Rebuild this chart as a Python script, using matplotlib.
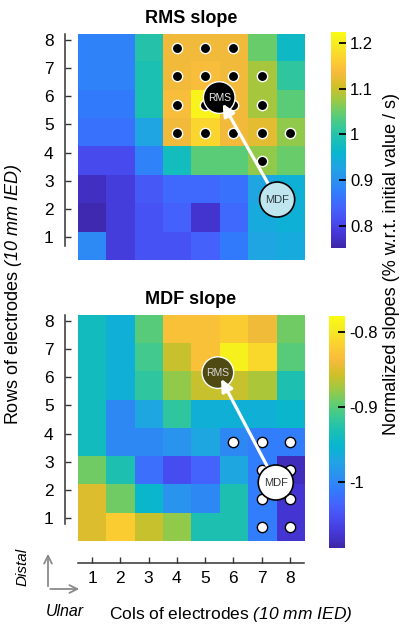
import numpy as np
import matplotlib

matplotlib.use("Agg")
import matplotlib.pyplot as plt
from matplotlib.colors import LinearSegmentedColormap
from matplotlib.patches import Circle, FancyArrowPatch

plt.rcParams["font.family"] = ["Liberation Sans", "DejaVu Sans"]
# math parts are only used for the italic "(10 mm IED)"
plt.rcParams["mathtext.fontset"] = "custom"
plt.rcParams["mathtext.rm"] = "Liberation Sans:italic"
plt.rcParams["mathtext.it"] = "Liberation Sans:italic"

# ---- data (rows listed from row 8 at the top down to row 1) ----
rows = [8, 7, 6, 5, 4, 3, 2, 1]
cols = [1, 2, 3, 4, 5, 6, 7, 8]

rms_slope = [
    [0.88, 0.88, 1.00, 1.13, 1.13, 1.13, 1.05, 0.97],
    [0.88, 0.88, 0.99, 1.13, 1.14, 1.13, 1.08, 1.01],
    [0.87, 0.87, 0.99, 1.14, 1.21, 1.13, 1.08, 1.04],
    [0.86, 0.86, 0.93, 1.13, 1.17, 1.13, 1.12, 1.07],
    [0.81, 0.81, 0.88, 0.98, 1.04, 1.04, 1.07, 1.05],
    [0.77, 0.79, 0.83, 0.85, 0.85, 0.86, 0.93, 0.95],
    [0.76, 0.79, 0.82, 0.84, 0.78, 0.85, 0.94, 0.95],
    [0.89, 0.79, 0.82, 0.82, 0.84, 0.87, 0.93, 0.94],
]
mdf_slope = [
    [-0.94, -0.96, -0.90, -0.83, -0.83, -0.82, -0.84, -0.89],
    [-0.94, -0.96, -0.91, -0.86, -0.83, -0.79, -0.81, -0.90],
    [-0.94, -0.96, -0.92, -0.88, -0.86, -0.86, -0.87, -0.93],
    [-0.94, -1.00, -0.97, -0.92, -0.96, -0.96, -0.96, -0.95],
    [-0.94, -1.00, -1.00, -0.99, -0.97, -1.00, -1.01, -1.01],
    [-0.89, -0.93, -1.02, -1.05, -1.03, -0.97, -1.01, -1.08],
    [-0.85, -0.89, -0.95, -0.99, -1.00, -0.93, -1.01, -1.07],
    [-0.85, -0.82, -0.86, -0.88, -0.93, -0.93, -1.01, -1.07],
]
rms_clim = (0.753, 1.223)
mdf_clim = (-1.089, -0.778)
rms_ticks = [0.8, 0.9, 1.0, 1.1, 1.2]
mdf_ticks = [-1.0, -0.9, -0.8]

# selected channels (col, row)
rms_dot_cols = [4, 5, 6, 4, 5, 6, 7, 4, 5, 6, 7, 4, 5, 6, 7, 8, 7]
rms_dot_rows = [8, 8, 8, 7, 7, 7, 7, 6, 6, 6, 6, 5, 5, 5, 5, 5, 4]
mdf_dot_cols = [6, 7, 8, 7, 8, 7, 8, 7, 8]
mdf_dot_rows = [4, 4, 4, 3, 3, 2, 2, 1, 1]

# barycenters (col, row)
rms_map_centers = {"RMS": (5.5, 6.25), "MDF": (7.55, 2.64)}
mdf_map_centers = {"RMS": (5.45, 6.46), "MDF": (7.5, 2.57)}

# parula (every 4th entry of the 64 step table)
parula = LinearSegmentedColormap.from_list(
    "parula",
    [
        (0.2422, 0.1504, 0.6603),
        (0.2706, 0.2147, 0.8364),
        (0.2813, 0.3006, 0.9414),
        (0.2699, 0.3892, 0.9906),
        (0.1963, 0.4847, 0.9892),
        (0.1687, 0.5703, 0.9359),
        (0.1248, 0.6459, 0.8883),
        (0.0297, 0.7082, 0.8163),
        (0.0964, 0.7500, 0.7120),
        (0.2161, 0.7843, 0.5923),
        (0.3909, 0.8029, 0.4354),
        (0.6174, 0.7876, 0.2612),
        (0.8203, 0.7498, 0.1535),
        (0.9728, 0.7298, 0.2394),
        (0.9892, 0.8136, 0.1885),
        (0.9597, 0.9135, 0.1423),
        (0.9769, 0.9839, 0.0805),
    ],
)

W, H = 407, 631


def fx(x):
    return x / W


def fy(y):
    return 1 - y / H


fig = plt.figure(figsize=(W / 100, H / 100), dpi=100)
ax_rms = fig.add_axes([fx(78), fy(260), 226 / W, 226 / H])
ax_mdf = fig.add_axes([fx(78), fy(541), 226 / W, 226 / H])
cax_rms = fig.add_axes([fx(331), fy(248), 15 / W, 216 / H])
cax_mdf = fig.add_axes([fx(329), fy(548), 16 / W, 232 / H])

tick_off = 0.3  # row tick labels sit a bit above the cell centers
spine_col = "#333333"


def draw_map(ax, data, clim, title, bounds):
    im = ax.imshow(
        np.array(data),
        cmap=parula,
        vmin=clim[0],
        vmax=clim[1],
        extent=(0.5, 8.5, 0.5, 8.5),
        origin="upper",
        aspect="auto",
        interpolation="nearest",
    )
    ax.set_xlim(0.5, 8.5)
    ax.set_ylim(0.5, 8.5)
    for s in ["top", "right", "bottom"]:
        ax.spines[s].set_visible(False)
    ax.spines["left"].set_position(("outward", 9.5))
    ax.spines["left"].set_bounds(*bounds)
    ax.spines["left"].set_color(spine_col)
    ax.spines["left"].set_linewidth(1.1)
    ax.set_yticks([r + tick_off for r in rows])
    ax.set_yticklabels([str(r) for r in rows])
    ax.tick_params(
        axis="y", direction="in", length=4, width=1.0, color=spine_col,
        labelsize=12.5, pad=8,
    )
    ax.set_xticks([])
    ax.set_title(title, fontweight="bold", fontsize=13, pad=8)
    return im


im_rms = draw_map(ax_rms, rms_slope, rms_clim, "RMS slope", (1.0, 8.5))
im_mdf = draw_map(ax_mdf, mdf_slope, mdf_clim, "MDF slope", (1.1, 8.5))

# x axis only under the lower map
ax_mdf.spines["bottom"].set_visible(True)
ax_mdf.spines["bottom"].set_position(("outward", 15.5))
ax_mdf.spines["bottom"].set_color(spine_col)
ax_mdf.spines["bottom"].set_linewidth(1.1)
ax_mdf.set_xticks(cols)
ax_mdf.set_xticklabels([str(c) for c in cols])
ax_mdf.tick_params(
    axis="x", direction="in", length=4, width=1.0, color=spine_col,
    labelsize=12.5, pad=6,
)

# channels above threshold
ax_rms.scatter(rms_dot_cols, rms_dot_rows, s=55, c="black",
               edgecolors="white", linewidths=1.0, zorder=3)
ax_mdf.scatter(mdf_dot_cols, mdf_dot_rows, s=55, c="white",
               edgecolors="black", linewidths=1.0, zorder=3)


def draw_centers(ax, centers, rms_face, rms_txt, mdf_face, mdf_txt):
    rx, ry = centers["RMS"]
    mx, my = centers["MDF"]
    ax.add_patch(Circle((rx, ry), 0.56, facecolor=rms_face, edgecolor="white",
                        lw=1.0, zorder=4))
    ax.text(rx, ry, "RMS", color=rms_txt, fontsize=7.5, ha="center",
            va="center", zorder=5)
    ax.add_patch(FancyArrowPatch(
        (mx, my), (rx, ry), arrowstyle="-|>,head_length=0.45,head_width=0.22",
        mutation_scale=16, color="white", lw=2.3, shrinkA=0, shrinkB=5,
        zorder=6,
    ))
    ax.add_patch(Circle((mx, my), 0.62, facecolor=mdf_face, edgecolor="black",
                        lw=1.2, zorder=7))
    ax.text(mx, my, "MDF", color=mdf_txt, fontsize=8, ha="center",
            va="center", zorder=8)


draw_centers(ax_rms, rms_map_centers, "black", "#e8e8e8", "#bfe5ee", "#2b3a40")
draw_centers(ax_mdf, mdf_map_centers, "#4f4a12", "#d8d8d8", "white", "#333333")

# colorbars
for cax, im, ticks, dark in [
    (cax_rms, im_rms, rms_ticks, [1.1, 1.2]),
    (cax_mdf, im_mdf, mdf_ticks, [-0.8]),
]:
    cb = fig.colorbar(im, cax=cax)
    cb.outline.set_visible(False)
    cb.set_ticks(ticks)
    cb.set_ticklabels([f"{t:g}" for t in ticks])
    cax.tick_params(direction="in", length=5, width=1.3, labelsize=12, pad=3)
    for t, tk in zip(ticks, cax.yaxis.get_major_ticks()):
        tk.tick2line.set_color("#222222" if t in dark else "white")

fig.text(fx(392), fy(264), "Normalized slopes (% w.r.t. initial value / s)",
         rotation=90, ha="center", va="center", fontsize=13)
fig.text(fx(14), fy(295), r"Rows of electrodes $(10\ mm\ IED)$",
         rotation=90, ha="center", va="center", fontsize=13)
fig.text(fx(231), fy(614), r"Cols of electrodes $(10\ mm\ IED)$",
         ha="center", va="center", fontsize=12.5)

# orientation arrows
gray = "#8a8a8a"
fig.add_artist(FancyArrowPatch((fx(48), fy(589)), (fx(48), fy(551)),
                               transform=fig.transFigure, arrowstyle="->",
                               mutation_scale=14, color=gray, lw=1.3))
fig.add_artist(FancyArrowPatch((fx(47.5), fy(589)), (fx(82), fy(589)),
                               transform=fig.transFigure, arrowstyle="->",
                               mutation_scale=14, color=gray, lw=1.3))
fig.text(fx(23), fy(567), "Distal", rotation=90, style="italic",
         ha="center", va="center", fontsize=11)
fig.text(fx(65), fy(611), "Ulnar", style="italic", ha="center", va="center",
         fontsize=11.5)

fig.savefig("out.png", dpi=100)
